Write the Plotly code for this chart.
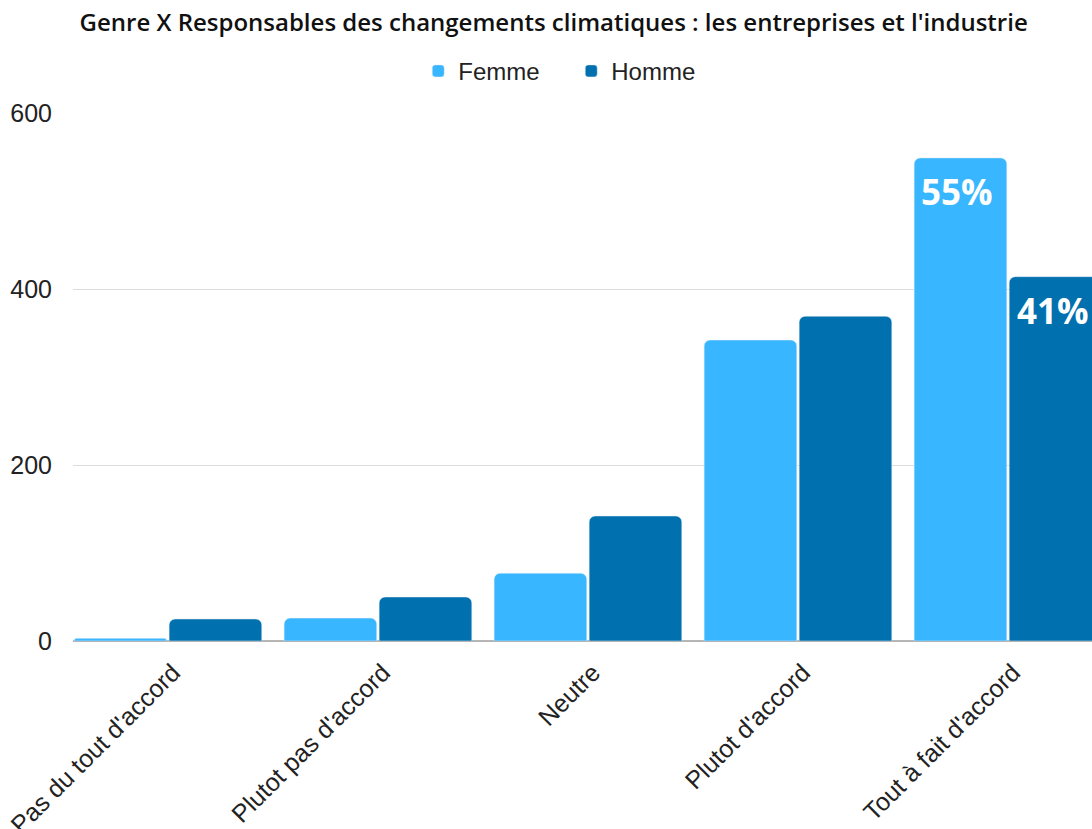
import plotly.graph_objects as go

categories = ["Pas du tout d'accord", "Plutot pas d'accord", "Neutre", "Plutot d'accord", "Tout à fait d'accord"]
femme = [3, 26, 77, 342, 549]
homme = [25, 50, 142, 369, 414]
label_cat = "Tout à fait d'accord"
label_femme = "55%"
label_homme = "41%"
y_ticks = [0, 200, 400, 600]

C_F = "#38b6ff"
C_H = "#0070ae"

fig = go.Figure()
fig.add_trace(go.Bar(name="Femme", x=categories, y=femme, marker_color=C_F))
fig.add_trace(go.Bar(name="Homme", x=categories, y=homme, marker_color=C_H))

idx = categories.index(label_cat)
for val, txt, off in [(femme[idx], label_femme, -0.2275), (homme[idx], label_homme, 0.2275)]:
    fig.add_annotation(x=idx + off, y=val, xref="x", yref="y", text=txt, showarrow=False,
                       yanchor="top", yshift=-8, xshift=-3,
                       font=dict(family="Open Sans", size=35, color="white", weight="bold"))

fig.update_layout(
    width=1092, height=829,
    margin=dict(l=73, r=0, t=113, b=188),
    paper_bgcolor="white", plot_bgcolor="white",
    barmode="group", bargap=0.095, bargroupgap=0.025, barcornerradius=6,
    title=dict(text="Genre X Responsables des changements climatiques : les entreprises et l'industrie",
               x=0.507, xref="container", xanchor="center", y=0.973, yref="container", yanchor="middle",
               font=dict(family="Open Sans", size=24, color="#111", weight=600)),
    legend=dict(orientation="h", x=0.383, xref="container", xanchor="left", y=0.914, yref="container",
                yanchor="middle", font=dict(family="Liberation Sans", size=24, color="#222"),
                itemwidth=30, entrywidth=108, traceorder="normal"),
    xaxis=dict(type="category", range=[-0.452, 4.4], tickangle=-45, showgrid=False,
               tickfont=dict(family="Liberation Sans", size=25, color="#222"),
               showline=False, ticks="", ticklabelstandoff=11, ticklabelshift=5, automargin=False),
    yaxis=dict(range=[0, 600], tickvals=y_ticks, showgrid=True, gridcolor="#dcdcdc", gridwidth=1,
               zeroline=True, zerolinecolor="#b5b5b5", zerolinewidth=2,
               tickfont=dict(family="Liberation Sans", size=25, color="#222"),
               ticklabelstandoff=20, ticks="", automargin=False),
)
fig.write_html("out.html")
